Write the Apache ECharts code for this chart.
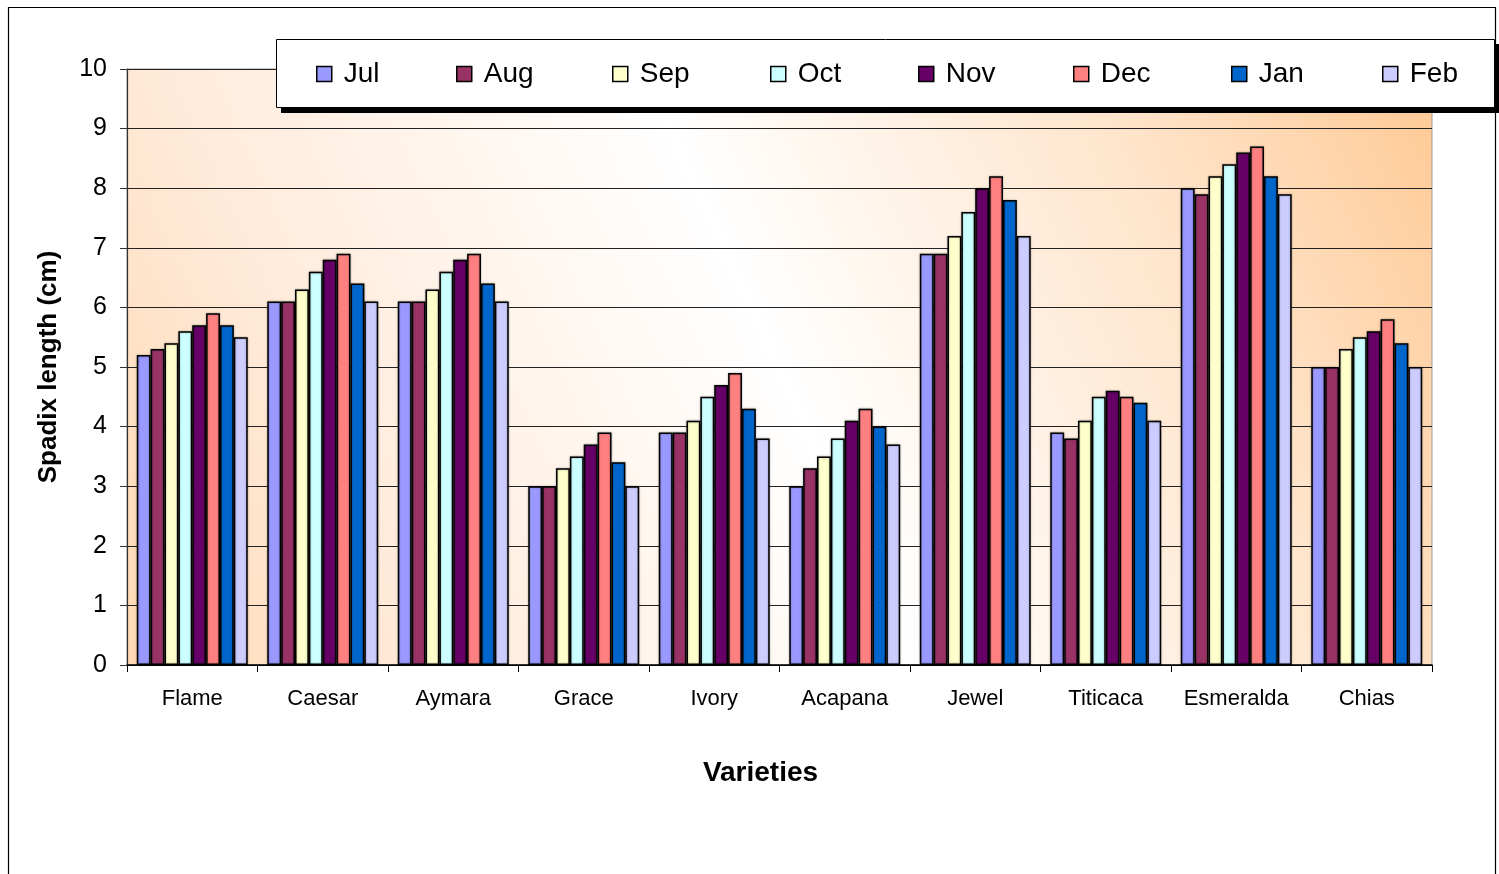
<!DOCTYPE html>
<html>
<head>
<meta charset="utf-8">
<script src="https://cdn.jsdelivr.net/npm/echarts@6/dist/echarts.min.js"></script>
<style>
html,body{margin:0;padding:0;background:#fff;}
#chart{width:1499px;height:874px;}
</style>
</head>
<body>
<div id="chart"></div>
<script>
const categories = ['Flame','Caesar','Aymara','Grace','Ivory','Acapana','Jewel','Titicaca','Esmeralda','Chias'];
const months = ['Jul','Aug','Sep','Oct','Nov','Dec','Jan','Feb'];
const colors = ['#9999FF','#993366','#FFFFCC','#CCFFFF','#660066','#FF8080','#0066CC','#CCCCFF'];
const jul = [5.2, 6.1, 6.1, 3.0, 3.9, 3.0, 6.9, 3.9, 8.0, 5.0];
const aug = [5.3, 6.1, 6.1, 3.0, 3.9, 3.3, 6.9, 3.8, 7.9, 5.0];
const sep = [5.4, 6.3, 6.3, 3.3, 4.1, 3.5, 7.2, 4.1, 8.2, 5.3];
const oct = [5.6, 6.6, 6.6, 3.5, 4.5, 3.8, 7.6, 4.5, 8.4, 5.5];
const nov = [5.7, 6.8, 6.8, 3.7, 4.7, 4.1, 8.0, 4.6, 8.6, 5.6];
const dec = [5.9, 6.9, 6.9, 3.9, 4.9, 4.3, 8.2, 4.5, 8.7, 5.8];
const jan = [5.7, 6.4, 6.4, 3.4, 4.3, 4.0, 7.8, 4.4, 8.2, 5.4];
const feb = [5.5, 6.1, 6.1, 3.0, 3.8, 3.7, 7.2, 4.1, 7.9, 5.0];
const yTicks = ['0','1','2','3','4','5','6','7','8','9','10'];
const seriesData = [jul, aug, sep, oct, nov, dec, jan, feb];

const FONT = '"Liberation Sans", Arial, sans-serif';
const legendLefts = [316, 456, 612, 770, 918, 1073, 1231, 1382];
const chart = echarts.init(document.getElementById('chart'), null, {renderer:'canvas'});
const option = {
  animation: false,
  color: colors,
  textStyle: {fontFamily: FONT, color:'#000'},
  graphic: [
    {type:'rect', z:-10, silent:true,
     shape:{x:8.5, y:7.5, width:1487, height:900},
     style:{fill:'#fff', stroke:'#000', lineWidth:1.2}},
    {type:'rect', z:50, silent:true,
     shape:{x:281, y:44, width:1219, height:69},
     style:{fill:'#000'}},
    {type:'rect', z:51, silent:true,
     shape:{x:276.5, y:39.5, width:1218, height:68},
     style:{fill:'#fff', stroke:'#000', lineWidth:1}}
  ],
  legend: months.map((m, i) => ({
    data: [m],
    left: legendLefts[i], top: 60,
    padding: 0,
    z: 60,
    itemWidth: 15, itemHeight: 15,
    icon: 'rect',
    itemStyle: {borderColor:'#000', borderWidth: 1.5},
    textStyle: {fontSize: 28, fontFamily: FONT, color:'#000', padding:[0,0,0,7]}
  })),
  grid: {
    left: 127, right: 67, top: 69, bottom: 209,
    show: true,
    borderColor: '#999', borderWidth: 1,
    backgroundColor: new echarts.graphic.LinearGradient(0, 1, 1, 0, [
      {offset: 0, color: '#FFD9B3'},
      {offset: 0.2, color: '#FFEBDB'},
      {offset: 0.5, color: '#FFFFFF'},
      {offset: 0.8, color: '#FFE3C8'},
      {offset: 1, color: '#FFC994'}
    ])
  },
  xAxis: {
    type: 'category',
    data: categories,
    name: 'Varieties',
    nameLocation: 'middle',
    nameGap: 94,
    nameTextStyle: {fontSize: 28, fontWeight: 'bold', color:'#000', fontFamily: FONT, padding:[0,38,0,0]},
    axisLine: {lineStyle:{color:'#000', width:1.5}},
    axisTick: {show:true, length:7, lineStyle:{color:'#000'}},
    axisLabel: {fontSize: 22, color:'#000', margin: 23, fontFamily: FONT, interval: 0},
    splitLine: {show:false}
  },
  yAxis: {
    type: 'value',
    min: 0, max: 10, interval: 1,
    name: 'Spadix length (cm)',
    nameLocation: 'middle',
    nameRotate: 90,
    nameGap: 65,
    nameTextStyle: {fontSize: 26, fontWeight: 'bold', color:'#000', fontFamily: FONT},
    axisLine: {show:true, lineStyle:{color:'#333', width:1.2}},
    axisTick: {show:true, length:7, inside:false, lineStyle:{color:'#333'}},
    axisLabel: {fontSize: 25, color:'#000', margin: 20, fontFamily: FONT,
      formatter: v => yTicks[Math.round(v)]},
    splitLine: {show:true, lineStyle:{color:'#222', width:1.2}}
  },
  series: seriesData.map((d, i) => ({
    name: months[i],
    type: 'bar',
    data: d,
    barGap: '0%',
    barCategoryGap: '15%',
    itemStyle: {color: colors[i], borderColor:'#000', borderWidth:1.5,
      shadowColor:'rgba(0,0,0,0.35)', shadowBlur:2}
  }))
};
chart.setOption(option);
</script>
</body>
</html>
